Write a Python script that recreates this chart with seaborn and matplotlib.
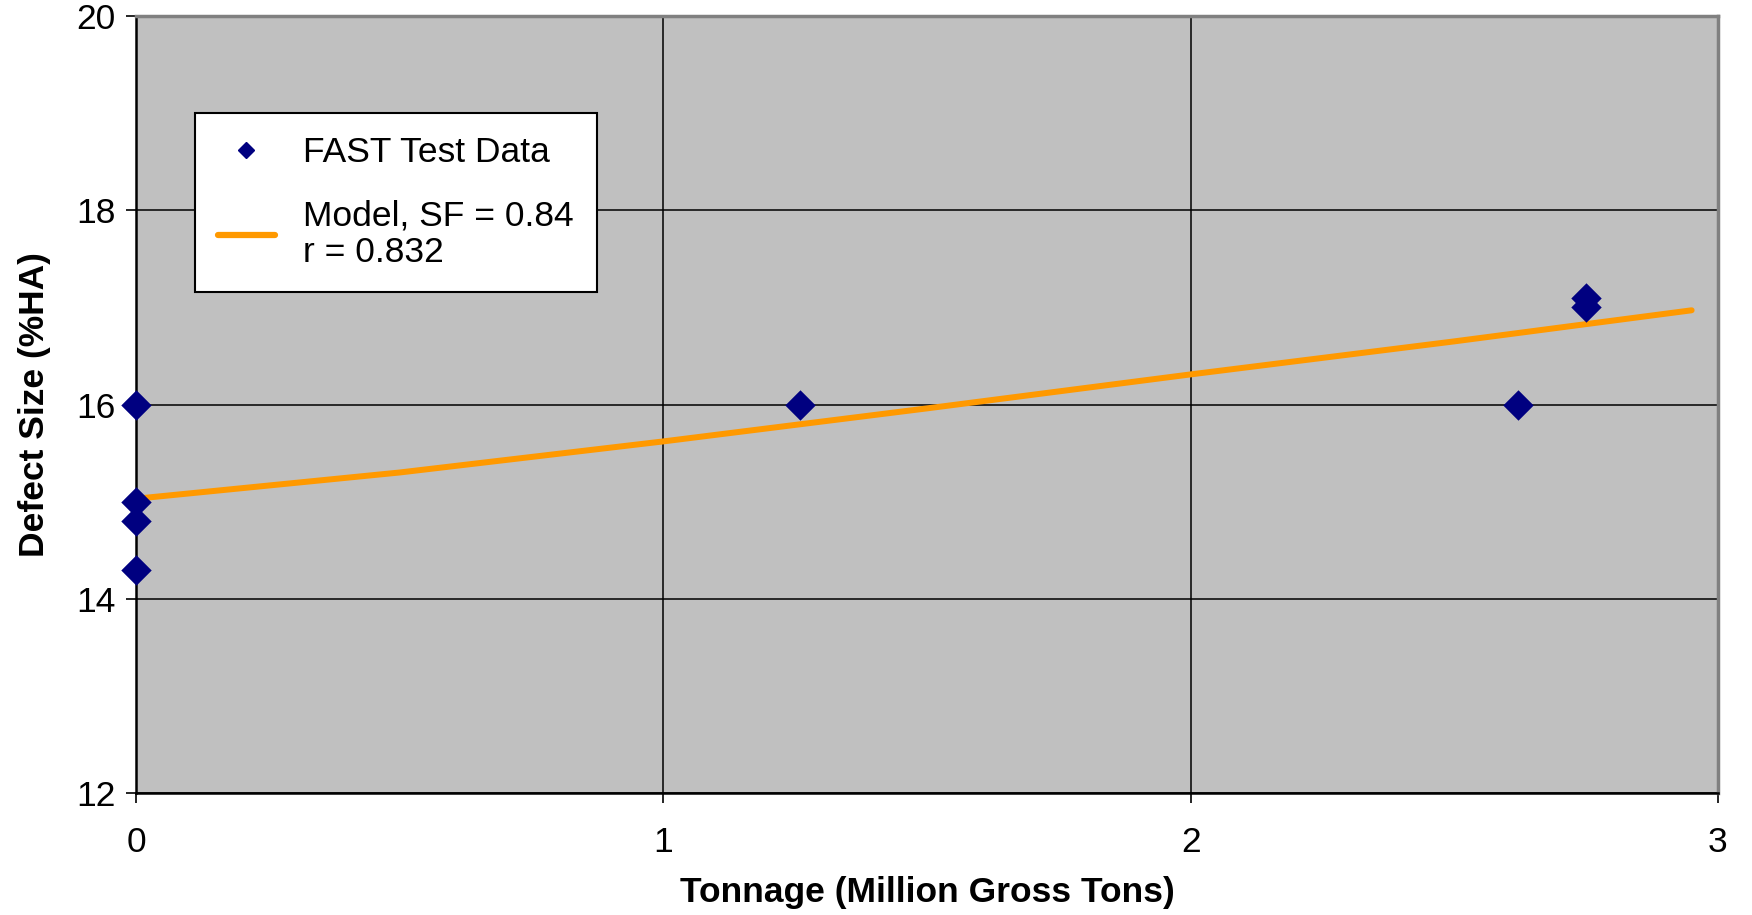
import matplotlib
matplotlib.use("Agg")
import matplotlib.pyplot as plt
import seaborn as sns
import pandas as pd
from matplotlib.lines import Line2D

# Data
test_tonnage = [0.0, 0.0, 0.0, 0.0, 1.26, 2.62, 2.75, 2.75]
test_defect = [16.0, 15.0, 14.8, 14.3, 16.0, 16.0, 17.1, 17.0]

model_tonnage = [0.0, 0.5, 1.0, 1.5, 2.0, 2.5, 2.95]
model_defect = [15.03, 15.30, 15.62, 15.96, 16.31, 16.65, 16.97]

x_ticks = [0, 1, 2, 3]
y_ticks = [12, 14, 16, 18, 20]

sns.set_theme(style="white")
plt.rcParams['font.family'] = ['Liberation Sans', 'DejaVu Sans']
plt.rcParams['text.color'] = 'black'
plt.rcParams['axes.labelcolor'] = 'black'

fig = plt.figure(figsize=(17.52, 9.15), dpi=100)
ax = fig.add_axes([136/1752, 1-793/915, (1718-136)/1752, (793-16)/915])
ax.set_facecolor('#C0C0C0')

df_pts = pd.DataFrame({"x": test_tonnage, "y": test_defect})
df_mod = pd.DataFrame({"x": model_tonnage, "y": model_defect})

sns.lineplot(data=df_mod, x="x", y="y", ax=ax, color='#FF9900', linewidth=4.3,
             zorder=3, legend=False)
sns.scatterplot(data=df_pts, x="x", y="y", ax=ax, marker='D', s=240, color='#000080',
                edgecolor='#000080', linewidth=0, zorder=4, legend=False, clip_on=False)

ax.set_xlim(0, 3)
ax.set_ylim(12, 20)
ax.set_xticks(x_ticks)
ax.set_yticks(y_ticks)
ax.set_xticklabels([str(t) for t in x_ticks])
ax.set_yticklabels([str(t) for t in y_ticks])
ax.grid(True, color='black', linewidth=1.1, zorder=1)
ax.set_axisbelow(True)

ax.tick_params(axis='both', which='major', labelsize=25.5, direction='out', length=7,
               width=1.2, color='black', labelcolor='black', bottom=True, left=True)
ax.tick_params(axis='x', pad=17)
ax.tick_params(axis='y', pad=8)

for side in ['left', 'bottom']:
    ax.spines[side].set_color('black')
    ax.spines[side].set_linewidth(1.8)
for side in ['top', 'right']:
    ax.spines[side].set_color('#808080')
    ax.spines[side].set_linewidth(2.5)

ax.set_xlabel("Tonnage (Million Gross Tons)", fontsize=25.5, fontweight='bold', labelpad=12, color='black')
ax.set_ylabel("Defect Size (%HA)", fontsize=25.5, fontweight='bold', labelpad=18, color='black')

handles = [
    Line2D([0], [0], marker='D', color='none', markerfacecolor='#000080',
           markeredgecolor='#000080', markersize=8),
    Line2D([0], [0], color='#FF9900', linewidth=4.5),
]
labels = ["FAST Test Data", "Model, SF = 0.84\nr = 0.832"]
leg = ax.legend(handles, labels, loc='upper left',
                bbox_to_anchor=((195-136)/(1718-136), 1-(113-16)/(793-16)),
                fontsize=25.5, frameon=True, fancybox=False, framealpha=1, edgecolor='black',
                facecolor='white', handlelength=1.6, handletextpad=0.8, borderpad=0.65,
                labelspacing=0.85, borderaxespad=0)
leg.get_frame().set_linewidth(1.5)
for t in leg.get_texts():
    t.set_color('black')
    t.set_linespacing(1.15)

fig.savefig("out.png", dpi=100)
